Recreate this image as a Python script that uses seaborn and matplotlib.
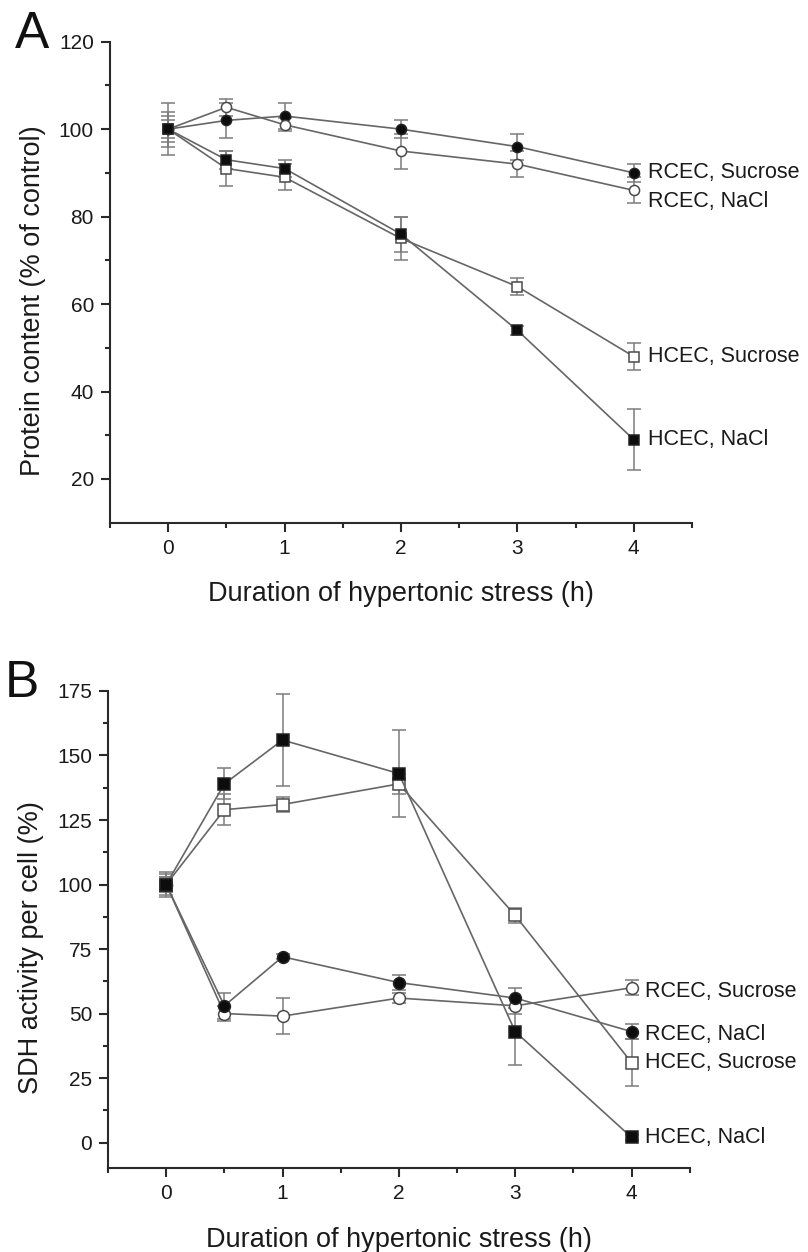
import numpy as np
import pandas as pd
import matplotlib
matplotlib.use("Agg")
import matplotlib.pyplot as plt
import seaborn as sns

# ---------------- data ----------------
time_h = [0, 0.5, 1, 2, 3, 4]

# Panel A: protein content (% of control)
a_rcec_sucrose = [100, 102, 103, 100, 96, 90]
a_rcec_sucrose_err = [4, 4, 3, 2, 3, 2]
a_rcec_nacl = [100, 105, 101, 95, 92, 86]
a_rcec_nacl_err = [6, 2, 1.5, 4, 3, 3]
a_hcec_sucrose = [100, 91, 89, 75, 64, 48]
a_hcec_sucrose_err = [2, 4, 3, 5, 2, 3]
a_hcec_nacl = [100, 93, 91, 76, 54, 29]
a_hcec_nacl_err = [3, 2, 2, 4, 1, 7]

# Panel B: SDH activity per cell (%)
b_rcec_sucrose = [100, 50, 49, 56, 53, 60]
b_rcec_sucrose_err = [4, 3, 7, 2, 3, 3]
b_rcec_nacl = [100, 53, 72, 62, 56, 43]
b_rcec_nacl_err = [3, 5, 1, 3, 4, 3]
b_hcec_sucrose = [100, 129, 131, 139, 88, 31]
b_hcec_sucrose_err = [5, 6, 3, 4, 3, 9]
b_hcec_nacl = [100, 139, 156, 143, 43, 2]
b_hcec_nacl_err = [3, 6, 18, 17, 13, 1]

series_names = ["RCEC, Sucrose", "RCEC, NaCl", "HCEC, Sucrose", "HCEC, NaCl"]

a_values = [a_rcec_sucrose, a_rcec_nacl, a_hcec_sucrose, a_hcec_nacl]
a_errors = [a_rcec_sucrose_err, a_rcec_nacl_err, a_hcec_sucrose_err, a_hcec_nacl_err]
b_values = [b_rcec_sucrose, b_rcec_nacl, b_hcec_sucrose, b_hcec_nacl]
b_errors = [b_rcec_sucrose_err, b_rcec_nacl_err, b_hcec_sucrose_err, b_hcec_nacl_err]

# marker styles (marker, filled?)
a_styles = [("o", True), ("o", False), ("s", False), ("s", True)]
b_styles = [("o", False), ("o", True), ("s", False), ("s", True)]

# label vertical offsets (points)
a_label_dy = [0, -8, 0, 0]
b_label_dy = [-3, -2, 0, 0]

x_label = "Duration of hypertonic stress (h)"
a_ylabel = "Protein content (% of control)"
b_ylabel = "SDH activity per cell (%)"


def long_df(values, errors):
    rows = []
    for name, vals, errs in zip(series_names, values, errors):
        for t, v, e in zip(time_h, vals, errs):
            rows.append({"series": name, "time": t, "value": v, "err": e})
    return pd.DataFrame(rows)


# ---------------- style ----------------
sns.set_theme(style="ticks")
plt.rcParams["font.family"] = ["Liberation Sans", "DejaVu Sans"]
plt.rcParams["axes.linewidth"] = 1.5
plt.rcParams["axes.edgecolor"] = "#2a2a2a"
plt.rcParams["xtick.color"] = "#2a2a2a"
plt.rcParams["ytick.color"] = "#2a2a2a"
plt.rcParams["xtick.labelcolor"] = "#1a1a1a"
plt.rcParams["ytick.labelcolor"] = "#1a1a1a"

LINE_C = "#666666"
ERR_C = "#7c7c7c"
FILL_C = "#0d0d0d"
OPEN_EDGE = "#4a4a4a"
TEXT_C = "#1a1a1a"

fig = plt.figure(figsize=(8.08, 12.52), dpi=100)
axA = fig.add_axes([0.1361, 0.5825, 0.7203, 0.3842])
axB = fig.add_axes([0.1337, 0.0668, 0.7199, 0.3813])


def draw_panel(ax, df, styles, label_dy, msize):
    for i, name in enumerate(series_names):
        sub = df[df["series"] == name]
        marker, filled = styles[i]
        ax.errorbar(sub["time"], sub["value"], yerr=sub["err"], fmt="none",
                    ecolor=ERR_C, elinewidth=1.1, capsize=5, capthick=1.1,
                    zorder=2)
        sns.lineplot(data=sub, x="time", y="value", ax=ax, color=LINE_C,
                     linewidth=1.2, marker=marker, markersize=msize,
                     markerfacecolor=FILL_C if filled else "white",
                     markeredgecolor="#222222" if filled else OPEN_EDGE,
                     markeredgewidth=1.1, zorder=3, legend=False,
                     errorbar=None)
        last = sub.iloc[-1]
        ax.annotate(name, xy=(last["time"], last["value"]),
                    xytext=(10, label_dy[i]), textcoords="offset points",
                    ha="left", va="center", fontsize=15.5, color=TEXT_C,
                    annotation_clip=False)


dfA = long_df(a_values, a_errors)
dfB = long_df(b_values, b_errors)

draw_panel(axA, dfA, a_styles, a_label_dy, 7.3)
draw_panel(axB, dfB, b_styles, b_label_dy, 8.5)

# Panel A axes
axA.set_xlim(-0.22, 4.5)
axA.set_ylim(10, 120)
axA.set_yticks([20, 40, 60, 80, 100, 120])
axA.set_yticks(np.arange(30, 120, 20), minor=True)

# Panel B axes
axB.set_xlim(-0.5, 4.5)
axB.set_ylim(-10, 175)
axB.set_yticks([0, 25, 50, 75, 100, 125, 150, 175])
axB.set_yticks(np.arange(12.5, 175, 25), minor=True)

for ax, ylab, ycoord in [(axA, a_ylabel, 0.462), (axB, b_ylabel, 0.463)]:
    ax.set_xticks([0, 1, 2, 3, 4])
    ax.set_xticks([-0.5, 0.5, 1.5, 2.5, 3.5, 4.5], minor=True)
    ax.tick_params(axis="both", which="major", direction="out", length=6.5,
                   width=1.5, labelsize=15, pad=5)
    ax.tick_params(axis="both", which="minor", direction="out", length=3.8,
                   width=1.5)
    ax.set_xlabel(x_label, fontsize=19.5, color=TEXT_C, labelpad=17)
    ax.set_ylabel(ylab, fontsize=19.5, color=TEXT_C)
    ax.yaxis.set_label_coords(-0.11, ycoord)
    sns.despine(ax=ax)

fig.text(0.018, 0.9615, "A", fontsize=37, color="#111111", ha="left",
         va="baseline")
fig.text(0.006, 0.4433, "B", fontsize=37, color="#111111", ha="left",
         va="baseline")

fig.savefig("out.png", dpi=100, facecolor="white")
